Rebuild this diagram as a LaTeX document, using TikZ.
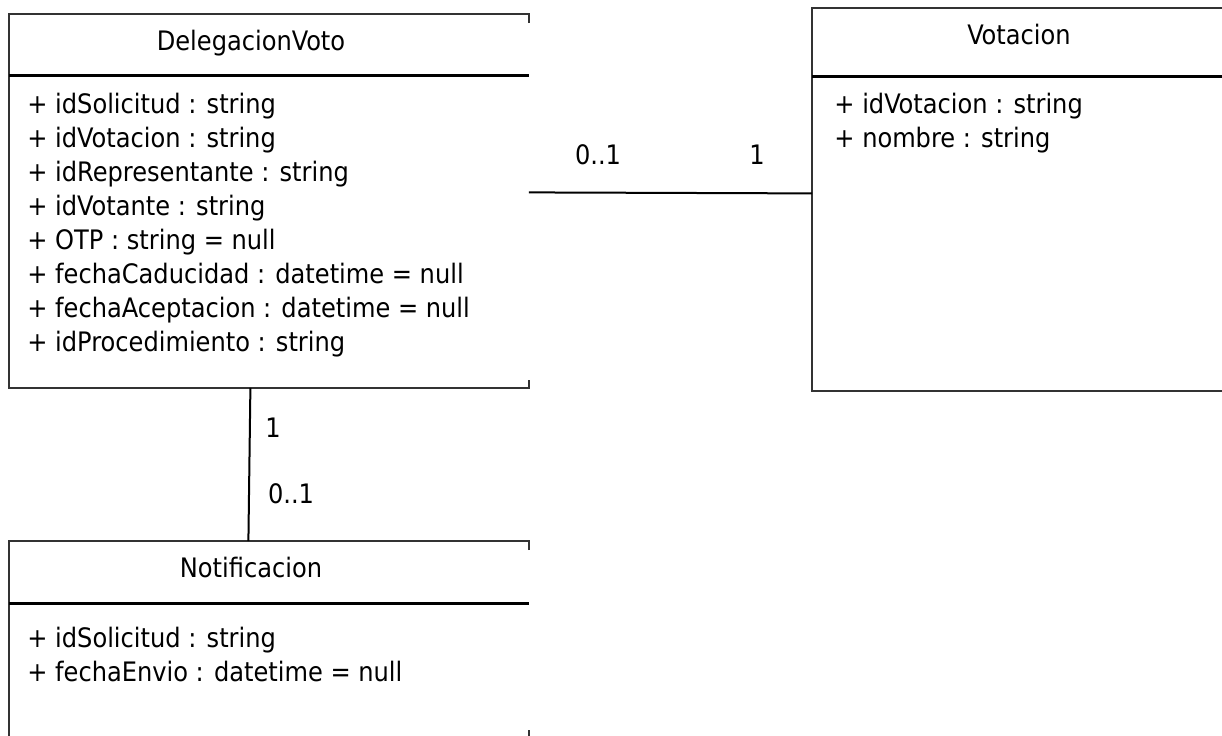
\documentclass[tikz,border=0pt]{standalone}
\usepackage{fontspec}
\setmainfont{DejaVu Sans Condensed}
\usetikzlibrary{positioning}

\begin{document}
\begin{tikzpicture}[
        x=0.5pt, y=-0.5pt,
        every node/.style={font=\fontsize{13.4}{17}\selectfont, inner sep=0pt},
        classbox/.style={rectangle, draw=none, anchor=north west},
        attrs/.style={align=left, anchor=north west},
        outline/.style={draw=black!80, line width=0.8pt},
        divider/.style={draw=black, line width=1.5pt},
        link/.style={draw=black, line width=1pt}
    ]
        \useasboundingbox (0,0) rectangle (1222,735);

        % Class boxes
        \node[classbox, minimum width=259.5pt, minimum height=186.5pt] (dv) at (9,14) {};
        \node[classbox, minimum width=207pt, minimum height=191pt] (vot) at (812,8) {};
        \node[classbox, minimum width=259.5pt, minimum height=98pt] (notif) at (9,541) {};

        \draw[outline] ([yshift=-4.5pt]dv.north east) -- (dv.north east) -- (dv.north west)
            -- (dv.south west) -- (dv.south east) -- ([yshift=4pt]dv.south east);
        \draw[outline] (vot.north east) -- (vot.north west) -- (vot.south west) -- (vot.south east);
        \draw[outline] ([yshift=-4.5pt]notif.north east) -- (notif.north east) -- (notif.north west)
            -- (notif.south west) -- (notif.south east) -- ([yshift=4pt]notif.south east);

        \draw[divider] ([yshift=-30.5pt]dv.north west) -- ([yshift=-30.5pt]dv.north east);
        \draw[divider] ([yshift=-34pt]vot.north west) -- ([yshift=-34pt]vot.north east);
        \draw[divider] ([yshift=-31pt]notif.north west) -- ([yshift=-31pt]notif.north east);

        % Class names
        \node (dvname) at (251,43) {DelegacionVoto};
        \node (votname) at (1019,35) {Votacion};
        \node (notifname) at (251,567) {Notificacion};

        % Attributes
        \node[attrs] (dvattr) at (27,93) {+ idSolicitud : string\\
            + idVotacion : string\\
            + idRepresentante : string\\
            + idVotante : string\\
            + OTP : string = null\\
            + fechaCaducidad : datetime = null\\
            + fechaAceptacion : datetime = null\\
            + idProcedimiento : string};
        \node[attrs] (votattr) at (834,93) {+ idVotacion : string\\
            + nombre : string};
        \node[attrs] (notifattr) at (27,627) {+ idSolicitud : string\\
            + fechaEnvio : datetime = null};

        % Associations
        \draw[link] ([yshift=4.25pt]dv.east) -- ([yshift=3pt]vot.west);
        \draw[link] ([xshift=-9.25pt]dv.south) -- ([xshift=-10.25pt]notif.north);

        \node (m1) at (598,155) {0..1};
        \node (m2) at (757,155) {1};
        \node (m3) at (273,428) {1};
        \node (m4) at (291,494) {0..1};

    \end{tikzpicture}
\end{document}
